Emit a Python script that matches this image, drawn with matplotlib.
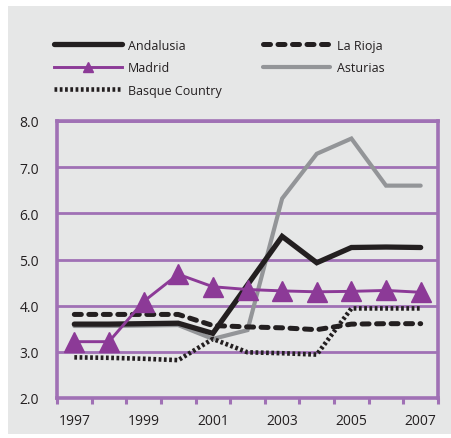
import matplotlib
matplotlib.use("Agg")
import matplotlib.pyplot as plt
from matplotlib.patches import Rectangle
import numpy as np

plt.rcParams['font.family'] = ['Open Sans', 'DejaVu Sans']

# Data
years = [1997, 1998, 1999, 2000, 2001, 2002, 2003, 2004, 2005, 2006, 2007]
andalusia = [3.60, 3.60, 3.61, 3.62, 3.40, 4.45, 5.50, 4.93, 5.26, 5.27, 5.26]
la_rioja = [3.81, 3.81, 3.81, 3.81, 3.57, 3.54, 3.52, 3.48, 3.60, 3.61, 3.61]
madrid = [3.22, 3.22, 4.09, 4.68, 4.41, 4.35, 4.32, 4.30, 4.31, 4.33, 4.29]
asturias = [3.56, 3.56, 3.57, 3.58, 3.28, 3.47, 6.32, 7.29, 7.62, 6.60, 6.60]
basque = [2.88, 2.87, 2.85, 2.82, 3.28, 2.99, 2.97, 2.94, 3.94, 3.94, 3.94]
tick_years = ['1997', '1999', '2001', '2003', '2005', '2007']

bg = '#e6e7e7'
grid_purple = '#a071b5'
purple = '#8c3a97'
black = '#231f20'
gray = '#939598'

fig = plt.figure(figsize=(4.51, 4.39), dpi=100, facecolor='white')
# grey panel behind everything
fig.patches.append(Rectangle((8 / 451, 1 - 435 / 439), 1 - 8 / 451, (435 - 7) / 439,
                             transform=fig.transFigure, facecolor=bg,
                             edgecolor='none', zorder=-1))

ax = fig.add_axes([57 / 451, 1 - 399 / 439, (438 - 57) / 451, (399 - 122) / 439])
ax.set_zorder(1)
ax.set_facecolor(bg)

x = np.arange(len(years))

ax.plot(x, asturias, color=gray, lw=3.0, solid_capstyle='round',
        solid_joinstyle='miter', label='Asturias', zorder=3)
ax.plot(x, basque, color=black, lw=3.3, linestyle=(0, (0.6, 0.55)),
        dash_capstyle='butt', label='Basque Country', zorder=4)
ax.plot(x, la_rioja, color=black, lw=3.6, linestyle=(0, (1.4, 1.5)),
        dash_capstyle='round', label='La Rioja', zorder=5)
ax.plot(x, andalusia, color=black, lw=3.8, solid_capstyle='round',
        solid_joinstyle='miter', label='Andalusia', zorder=6)
ax.plot(x, madrid, color=purple, lw=2.1, marker='^', markersize=15,
        markerfacecolor=purple, markeredgecolor=purple, label='Madrid', zorder=7)

ax.set_xlim(-0.5, len(years) - 0.5)
ax.set_ylim(2, 8)

ax.set_yticks(np.arange(2, 8.01, 1))
ax.set_yticklabels([f'{v:.1f}' for v in np.arange(2, 8.01, 1)])
ax.tick_params(axis='y', length=0, pad=13, labelsize=10, labelcolor=black)

# labels on odd years, small marks between categories
ax.set_xticks(x[::2])
ax.set_xticklabels(tick_years)
ax.set_xticks(np.arange(-0.5, len(years) + 0.5, 1), minor=True)
ax.tick_params(axis='x', which='major', length=0, pad=11, labelsize=10, labelcolor=black)
ax.tick_params(axis='x', which='minor', length=4, width=2.2, color=grid_purple)

ax.grid(axis='y', color=grid_purple, lw=2.0, zorder=1)
ax.set_axisbelow(True)
for s in ax.spines.values():
    s.set_color(grid_purple)
    s.set_linewidth(2.6)

handles, labels = ax.get_legend_handles_labels()
order = ['Andalusia', 'Madrid', 'Basque Country', 'La Rioja', 'Asturias']
hmap = dict(zip(labels, handles))
leg = fig.legend([hmap[k] for k in order], order, ncol=2,
                 loc='upper left', bbox_to_anchor=(0.095, 0.935),
                 frameon=False, fontsize=9, handlelength=5.4,
                 handletextpad=0.5, columnspacing=3.3, labelspacing=0.75,
                 markerscale=0.5)
for t in leg.get_texts():
    t.set_color(black)

fig.savefig('out.png', dpi=100, facecolor='white')
